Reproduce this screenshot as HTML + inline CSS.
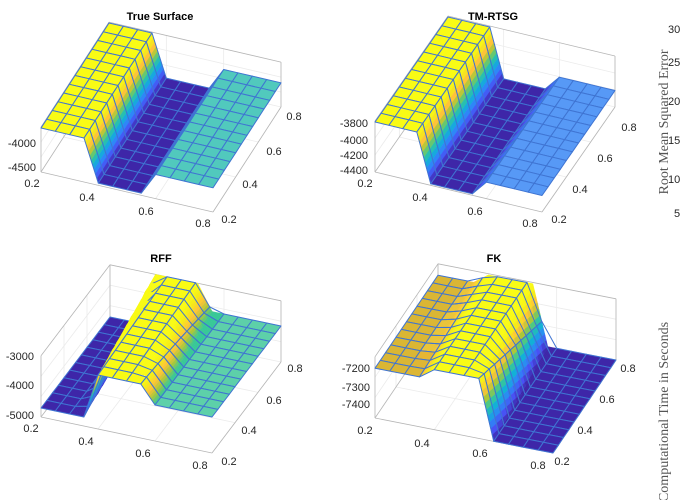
<!DOCTYPE html>
<html><head><meta charset="utf-8">
<style>
html,body{margin:0;padding:0;background:#fff;}
svg{display:block;}
text{font-family:"Liberation Sans",sans-serif;font-size:11px;fill:#262626;}
.t{font-weight:bold;text-anchor:middle;fill:#000;}
.z{text-anchor:end;}
.c{text-anchor:middle;}
.s{font-family:"Liberation Serif",serif;font-size:14px;fill:#555;}
</style></head>
<body>
<svg id="sv" width="680" height="500" viewBox="0 0 680 500" xmlns="http://www.w3.org/2000/svg">
<g id="boxes"></g>
<g id="surf"></g>
<text class="t" x="160" y="20">True Surface</text>
<text class="z" x="36" y="147">-4000</text>
<text class="z" x="36" y="171">-4500</text>
<text class="c" x="32" y="187">0.2</text>
<text class="c" x="87" y="201">0.4</text>
<text class="c" x="146" y="215">0.6</text>
<text class="c" x="203" y="227">0.8</text>
<text class="c" x="229" y="223">0.2</text>
<text class="c" x="250" y="188">0.4</text>
<text class="c" x="274" y="155">0.6</text>
<text class="c" x="294" y="120">0.8</text>
<text class="t" x="493" y="20">TM-RTSG</text>
<text class="z" x="368" y="127">-3800</text>
<text class="z" x="368" y="144">-4000</text>
<text class="z" x="368" y="159">-4200</text>
<text class="z" x="368" y="174">-4400</text>
<text class="c" x="365" y="187">0.2</text>
<text class="c" x="420" y="201">0.4</text>
<text class="c" x="475" y="215">0.6</text>
<text class="c" x="530" y="227">0.8</text>
<text class="c" x="559" y="223">0.2</text>
<text class="c" x="580" y="193">0.4</text>
<text class="c" x="605" y="162">0.6</text>
<text class="c" x="629" y="131">0.8</text>
<text class="t" x="161" y="262">RFF</text>
<text class="z" x="34" y="360">-3000</text>
<text class="z" x="34" y="389">-4000</text>
<text class="z" x="34" y="419">-5000</text>
<text class="c" x="31" y="432">0.2</text>
<text class="c" x="86" y="445">0.4</text>
<text class="c" x="143" y="457">0.6</text>
<text class="c" x="200" y="469">0.8</text>
<text class="c" x="229" y="465">0.2</text>
<text class="c" x="249" y="434">0.4</text>
<text class="c" x="274" y="404">0.6</text>
<text class="c" x="295" y="372">0.8</text>
<text class="t" x="494" y="262">FK</text>
<text class="z" x="370" y="372">-7200</text>
<text class="z" x="370" y="391">-7300</text>
<text class="z" x="370" y="408">-7400</text>
<text class="c" x="365" y="434">0.2</text>
<text class="c" x="422" y="447">0.4</text>
<text class="c" x="480" y="457">0.6</text>
<text class="c" x="538" y="469">0.8</text>
<text class="c" x="562" y="465">0.2</text>
<text class="c" x="585" y="434">0.4</text>
<text class="c" x="607" y="403">0.6</text>
<text class="c" x="628" y="372">0.8</text>
<text x="668" y="33">30</text>
<text x="668" y="66">25</text>
<text x="668" y="105">20</text>
<text x="668" y="144">15</text>
<text x="668" y="183">10</text>
<text x="674" y="217">5</text>
<text class="s" transform="translate(668,122) rotate(-90)" text-anchor="middle">Root Mean Squared Error</text>
<text class="s" transform="translate(668,412) rotate(-90)" text-anchor="middle">Computational Time in Seconds</text>
</svg>
<script>
(function(){
var NS="http://www.w3.org/2000/svg";
var P=[[0,.2422,.1504,.6603],[.125,.2810,.3228,.9579],[.25,.1786,.5289,.9682],[.375,.0689,.6948,.8394],[.5,.2161,.7843,.5923],[.625,.6720,.7793,.2227],[.75,.9970,.7659,.2199],[.875,.9598,.9218,.0948],[1,.9769,.9839,.0805]];
function par(v,lf,dk){v=Math.max(0,Math.min(1,v));for(var i=0;i<8;i++){if(v<=P[i+1][0]){var t=(v-P[i][0])/(P[i+1][0]-P[i][0]);var r=[];for(var k=1;k<4;k++){var c=P[i][k]+(P[i+1][k]-P[i][k])*t;c=(c*(1-lf)+lf*0.95)*(dk||1);r.push(Math.round(c*255));}return "rgb("+r.join(",")+")";}}}
function rep(v,n){var a=[];for(var i=0;i<n;i++)a.push(v);return a;}
var panels=[
{O:[41,172],ex:[172,40],ey:[68,-105],ez:[0,-44],h:[].concat(rep(1,4),rep(.05,4),rep(.55,5)),c:[].concat(rep(1,4),rep(0,4),rep(.45,5)),sh:0},
{O:[375,172],ex:[167,40],ey:[73,-105],ez:[0,-50],h:[].concat(rep(1,4),rep(.03,4),rep(.33,5)),c:[].concat(rep(1,4),rep(0,4),rep(.24,5)),sh:0},
{O:[41,417],ex:[171,36],ey:[69,-91],ez:[0,-60],h:[].concat(rep(.15,4),rep(.9,4),rep(.6,5)),c:[].concat(rep(0,4),rep(1,4),rep(.5,5)),sh:.07,pk:.12},
{O:[375,418],ex:[178,35],ey:[63,-93],ez:[0,-60],h:[].concat(rep(.83,4),rep(1,4),rep(0,5)),c:[].concat(rep(.72,4),rep(1,4),rep(0,5)),sh:.05}
];
var boxes=document.getElementById("boxes"),surf=document.getElementById("surf");
function el(par_,tag,at){var e=document.createElementNS(NS,tag);for(var k in at)e.setAttribute(k,at[k]);par_.appendChild(e);return e;}
panels.forEach(function(p){
 function pr(tx,ty,tz){return [p.O[0]+tx*p.ex[0]+ty*p.ey[0]+tz*p.ez[0],p.O[1]+tx*p.ex[1]+ty*p.ey[1]+tz*p.ez[1]];}
 function ln(a,b,col){el(boxes,"line",{x1:a[0],y1:a[1],x2:b[0],y2:b[1],stroke:col,"stroke-width":0.8});}
 var zt=1.02;
 for(var i=1;i<4;i++){var t=i/3;ln(pr(t,0,0),pr(t,1,0),"#ebebeb");ln(pr(0,t,0),pr(1,t,0),"#ebebeb");ln(pr(t,1,0),pr(t,1,zt),"#ebebeb");ln(pr(0,t,0),pr(0,t,zt),"#ebebeb");}
 for(var i=1;i<3;i++){var t=i/3;ln(pr(0,1,t*zt),pr(1,1,t*zt),"#ebebeb");ln(pr(0,0,t*zt),pr(0,1,t*zt),"#ebebeb");}
 var g="#b5b5b5";
 ln(pr(0,0,0),pr(1,0,0),g);ln(pr(1,0,0),pr(1,1,0),g);ln(pr(0,0,0),pr(0,1,0),g);
 ln(pr(0,0,0),pr(0,0,zt),g);ln(pr(0,1,0),pr(0,1,zt),g);ln(pr(1,1,0),pr(1,1,zt),g);
 ln(pr(0,1,zt),pr(1,1,zt),g);ln(pr(0,0,zt),pr(0,1,zt),g);
 function prof(arr,x){var f=x*12;if(f<=0)return arr[0];if(f>=12)return arr[12];var i=Math.floor(f),t=f-i;return arr[i]+(arr[i+1]-arr[i])*t;}
 function C(tx,ty){return prof(p.c,tx+p.sh*ty);}
 function H(tx,ty){var x=tx+p.sh*ty;var v=prof(p.h,x);if(p.pk){var c=prof(p.c,x);v+=p.pk*ty*Math.max(0,(c-0.5)*2);}return v;}
 var N=12,cells=[];
 for(var i=0;i<N;i++)for(var j=0;j<N;j++){var cx=(i+.5)/N,cy=(j+.5)/N;cells.push({i:i,j:j,d:pr(cx,cy,0)[1]});}
 cells.sort(function(a,b){return a.d-b.d;});
 cells.forEach(function(cl){
  var x0=cl.i/N,x1=(cl.i+1)/N,y0=cl.j/N,y1=(cl.j+1)/N;
  var cs=[C(x0,y0),C(x1,y0),C(x0,y1),C(x1,y1)];
  var mx=Math.max.apply(null,cs),mn=Math.min.apply(null,cs);
  var sub=(mx-mn>0.05)?10:1;
  for(var s=0;s<sub;s++){
   var a=x0+(x1-x0)*s/sub,b=x0+(x1-x0)*(s+1)/sub;
   var pts=[pr(a,y0,H(a,y0)),pr(b,y0,H(b,y0)),pr(b,y1,H(b,y1)),pr(a,y1,H(a,y1))];
   var cv=(C(a,y0)+C(b,y0)+C(a,y1)+C(b,y1))/4;
   var lf=(sub==1&&cv>0.15&&cv<0.6)?0.2:0.0;
   var dk=(sub==1&&cv>0.6&&cv<0.8)?0.93:1;
   var col=par(cv,lf,dk);
   el(surf,"polygon",{points:pts.map(function(q){return q[0].toFixed(1)+","+q[1].toFixed(1);}).join(" "),fill:col,stroke:col,"stroke-width":0.4});
  }
  var q=[pr(x0,y0,H(x0,y0)),pr(x1,y0,H(x1,y0)),pr(x1,y1,H(x1,y1)),pr(x0,y1,H(x0,y1))];
  el(surf,"polygon",{points:q.map(function(r){return r[0].toFixed(1)+","+r[1].toFixed(1);}).join(" "),fill:"none",stroke:"#3f74d2","stroke-width":1,"stroke-linejoin":"round"});
 });
});
})();
</script>
</body></html>
